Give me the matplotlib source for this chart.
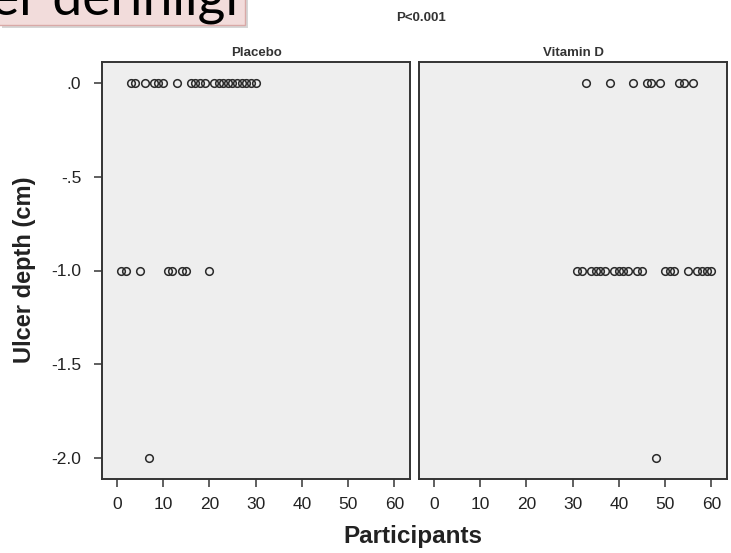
import matplotlib
matplotlib.use("Agg")
import matplotlib.pyplot as plt
from matplotlib.patches import Rectangle

plt.rcParams['font.family'] = ['Liberation Sans', 'DejaVu Sans']

# participant index and ulcer depth change (cm) per group
placebo_ids = [1, 2, 3, 4, 5, 6, 7, 8, 9, 10,
               11, 12, 13, 14, 15, 16, 17, 18, 19, 20,
               21, 22, 23, 24, 25, 26, 27, 28, 29, 30]
placebo_depth = [-1.0, -1.0, 0.0, 0.0, -1.0, 0.0, -2.0, 0.0, 0.0, 0.0,
                 -1.0, -1.0, 0.0, -1.0, -1.0, 0.0, 0.0, 0.0, 0.0, -1.0,
                 0.0, 0.0, 0.0, 0.0, 0.0, 0.0, 0.0, 0.0, 0.0, 0.0]
vitd_ids = [31, 32, 33, 34, 35, 36, 37, 38, 39, 40,
            41, 42, 43, 44, 45, 46, 47, 48, 49, 50,
            51, 52, 53, 54, 55, 56, 57, 58, 59, 60]
vitd_depth = [-1.0, -1.0, 0.0, -1.0, -1.0, -1.0, -1.0, 0.0, -1.0, -1.0,
              -1.0, -1.0, 0.0, -1.0, -1.0, 0.0, 0.0, -2.0, 0.0, -1.0,
              -1.0, -1.0, 0.0, 0.0, -1.0, 0.0, -1.0, -1.0, -1.0, -1.0]

panel_titles = ["Placebo", "Vitamin D"]
x_ticks = [0, 10, 20, 30, 40, 50, 60]
y_ticks = [0.0, -0.5, -1.0, -1.5, -2.0]
y_labels = [".0", "-.5", "-1.0", "-1.5", "-2.0"]

W, H = 731, 553
fig = plt.figure(figsize=(W / 100, H / 100), dpi=100)


def px_axes(x0, y0, x1, y1):
    return fig.add_axes([x0 / W, 1 - y1 / H, (x1 - x0) / W, (y1 - y0) / H])


ax1 = px_axes(102, 62, 410, 479)
ax2 = px_axes(419, 62, 727, 479)

for ax, ids, depth, title in [(ax1, placebo_ids, placebo_depth, panel_titles[0]),
                              (ax2, vitd_ids, vitd_depth, panel_titles[1])]:
    ax.set_facecolor('#eeeeee')
    ax.plot(ids, depth, 'o', ms=5.5, mfc='none', mec='#2a2a2a', mew=1.1, ls='none')
    ax.set_xlim(-3.2, 63.4)
    ax.set_ylim(-2.112, 0.112)
    ax.set_xticks(x_ticks)
    ax.set_xticklabels([str(t) for t in x_ticks], fontsize=12.5, color='#222222')
    ax.tick_params(axis='x', length=6, width=1.2, color='#444444', pad=7)
    for s in ax.spines.values():
        s.set_color('#333333')
        s.set_linewidth(1.4)
    ax.set_title(title, fontsize=9.5, fontweight='bold', color='#333333', pad=4)

ax1.set_yticks(y_ticks)
ax1.set_yticklabels(y_labels, fontsize=12.5, color='#222222')
ax1.tick_params(axis='y', length=6, width=1.2, color='#444444', pad=9)
ax2.set_yticks([])

fig.text(25 / W, 1 - 270 / H, "Ulcer depth (cm)", rotation=90, ha='center', va='center',
         fontsize=17, fontweight='bold', color='#222222')
fig.text(413 / W, 1 - 536 / H, "Participants", ha='center', va='center',
         fontsize=17.5, fontweight='bold', color='#222222')
fig.text(421 / W, 1 - 18 / H, "P<0.001", ha='center', va='center',
         fontsize=9.5, fontweight='bold', color='#333333')

# slide caption box in the top-left corner
fig.patches.append(Rectangle((2 / W, 1 - 28 / H), 246 / W, 30 / H, transform=fig.transFigure,
                             facecolor='#bbbbbb', edgecolor='none', alpha=0.6, zorder=1))
fig.patches.append(Rectangle((-2 / W, 1 - 25 / H), 247 / W, 27 / H, transform=fig.transFigure,
                             facecolor='#f2dcdb', edgecolor='#d9a9a7', linewidth=1, zorder=2))
fig.text(238 / W, 1 - 14 / H, "Ülser derinliği", ha='right', va='baseline',
         fontsize=38.5, color='black', family=['Lato', 'DejaVu Sans'], zorder=3)

fig.savefig("out.png", dpi=100)
